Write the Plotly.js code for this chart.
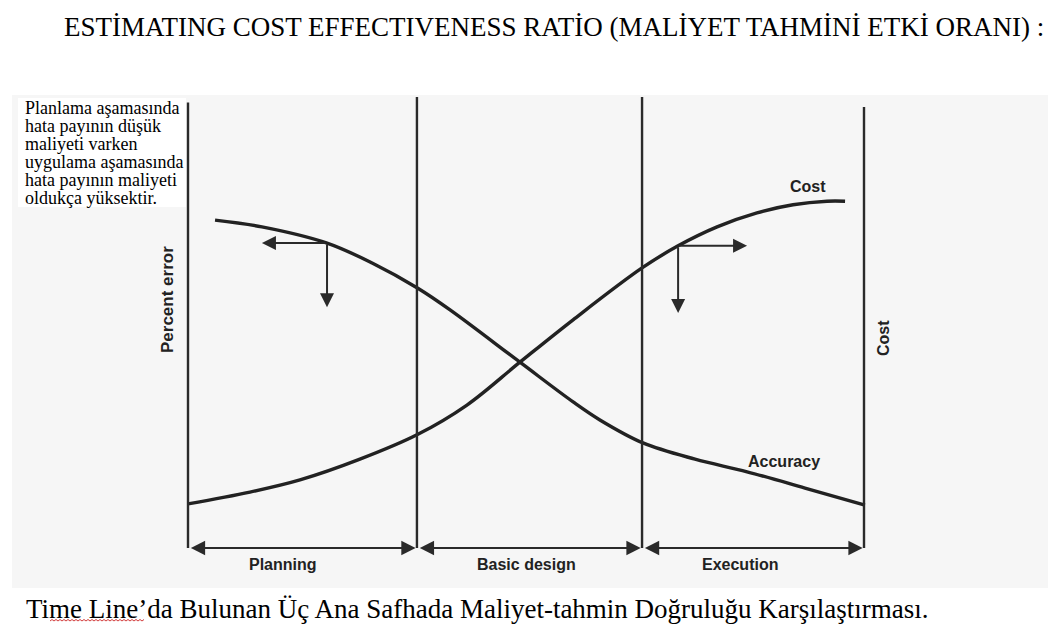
<!DOCTYPE html>
<html>
<head>
<meta charset="utf-8">
<script src="https://cdn.plot.ly/plotly-3.0.1.min.js"></script>
<style>html,body{margin:0;padding:0;background:#fff;}#chart{width:1051px;height:634px;}</style>
</head>
<body>
<div id="chart"></div>
<script>
// ---- data ----
const phaseNames = ["Planning", "Basic design", "Execution"];
const phaseBounds = [0, 1.016, 2.015, 3.0];
const boundTops = [98.8, 100, 100, 97.8];
const phaseLabelX = [0.42, 1.50, 2.45];

const accuracyX = [0.12, 0.328, 0.617, 0.817, 1.02, 1.163, 1.473, 1.709, 1.828, 2.019, 2.25, 2.481, 2.738, 3.004];
const accuracyY = [72.7, 71.2, 67.6, 63.2, 57.6, 52.8, 41.2, 32.4, 28.4, 23.3, 19.7, 16.9, 13.3, 9.5];

const costX = [0, 0.275, 0.497, 0.763, 1.016, 1.238, 1.473, 1.709, 2.015, 2.175, 2.348, 2.525, 2.685, 2.836, 2.916];
const costY = [9.8, 12.4, 15.1, 19.7, 25.1, 31.7, 41.2, 50.6, 62.1, 67.0, 71.2, 74.3, 76.1, 76.9, 76.9];

// arrows: [tailX, tailY, headX, headY]
const errorArrows = [
  [0.617, 67.6, 0.328, 67.6],
  [0.617, 67.6, 0.617, 53.4],
  [2.175, 67.0, 2.481, 67.0],
  [2.175, 67.0, 2.175, 52.1]
];

const curveLabels = ["Cost", "Accuracy"];
const axisLabels = ["Percent error", "Cost"];
const titleText = "ESTİMATING COST EFFECTIVENESS RATİO (MALİYET TAHMİNİ ETKİ ORANI) :";
const captionText = "Time Line’da Bulunan Üç Ana Safhada Maliyet-tahmin Doğruluğu Karşılaştırması.";
const noteLines = ["Planlama aşamasında", "hata payının düşük", "maliyeti varken", "uygulama aşamasında", "hata payının maliyeti", "oldukça yüksektir."];

// ---- layout geometry (pixels) ----
const W = 1051, H = 634;
const X0PX = 188, X3PX = 864, Y0PX = 548, Y100PX = 97;   // where data 0..3 / 0..100 sit
const L = 176, R = 876, T = 88, B = 558;                  // plot area, a bit larger so edge lines are not clipped
const ux = 3 / (X3PX - X0PX), uy = 100 / (Y0PX - Y100PX);
const xRange = [-(X0PX - L) * ux, 3 + (R - X3PX) * ux];
const yRange = [-(B - Y0PX) * uy, 100 + (Y100PX - T) * uy];
const px = v => (v - L) / (R - L);
const py = v => (B - v) / (B - T);

const ink = "#222222";
const sansBold = "Liberation Sans, Arial, sans-serif";
const serif = "Liberation Serif, Times New Roman, serif";

const traces = [
  {x: accuracyX, y: accuracyY, mode: "lines", line: {shape: "spline", width: 3.4, color: ink, smoothing: 1}, hoverinfo: "skip", name: "Accuracy"},
  {x: costX, y: costY, mode: "lines", line: {shape: "spline", width: 3.4, color: ink, smoothing: 1}, hoverinfo: "skip", name: "Cost"}
];

const shapes = [];
// scanned-page background
shapes.push({type: "rect", xref: "paper", yref: "paper", x0: px(12), x1: px(1048), y0: py(588), y1: py(95), fillcolor: "#f6f6f6", line: {width: 0}, layer: "below"});
shapes.push({type: "rect", xref: "paper", yref: "paper", x0: px(18), x1: px(186), y0: py(207), y1: py(98), fillcolor: "#ffffff", line: {width: 0}, layer: "below"});
// phase boundaries
phaseBounds.forEach((b, i) => {
  shapes.push({type: "line", xref: "x", yref: "y", x0: b, x1: b, y0: 0, y1: boundTops[i], line: {color: "#2a2a2a", width: 2.4}});
});
// red wavy spell-check underline under "Line"
let wave = "M" + px(50) + "," + py(621);
for (let xx = 50, k = 0; xx < 143; xx += 2, k++) {
  wave += " L" + px(xx + 2) + "," + py(k % 2 ? 621 : 619.5);
}
shapes.push({type: "path", xref: "paper", yref: "paper", path: wave, line: {color: "#d23c3c", width: 1}});

const annotations = [];
// phase double arrows along the bottom
for (let i = 0; i < phaseNames.length; i++) {
  annotations.push({x: phaseBounds[i + 1] - 0.006, y: 0, ax: phaseBounds[i] + 0.006, ay: 0, xref: "x", yref: "y", axref: "x", ayref: "y",
    text: "", showarrow: true, arrowhead: 2, arrowsize: 1.3, arrowwidth: 2.2, arrowcolor: "#2a2a2a", arrowside: "end+start", standoff: 0, startstandoff: 0});
  annotations.push({x: phaseLabelX[i], y: 0, xref: "x", yref: "y", yshift: -16, xanchor: "center", yanchor: "middle",
    text: "<b>" + phaseNames[i] + "</b>", showarrow: false, font: {family: sansBold, size: 16, color: ink}});
}
// error arrows
errorArrows.forEach(a => {
  annotations.push({x: a[2], y: a[3], ax: a[0], ay: a[1], xref: "x", yref: "y", axref: "x", ayref: "y",
    text: "", showarrow: true, arrowhead: 2, arrowsize: 1.4, arrowwidth: 2, arrowcolor: "#2a2a2a", standoff: 0, startstandoff: 0});
});
// curve labels
annotations.push({xref: "paper", yref: "paper", x: px(808), y: py(186), xanchor: "center", yanchor: "middle", text: "<b>" + curveLabels[0] + "</b>", showarrow: false, font: {family: sansBold, size: 16, color: ink}});
annotations.push({xref: "paper", yref: "paper", x: px(784), y: py(461), xanchor: "center", yanchor: "middle", text: "<b>" + curveLabels[1] + "</b>", showarrow: false, font: {family: sansBold, size: 16, color: ink}});
// axis labels
annotations.push({xref: "paper", yref: "paper", x: px(167), y: py(300), xanchor: "center", yanchor: "middle", text: "<b>" + axisLabels[0] + "</b>", textangle: -90, showarrow: false, font: {family: sansBold, size: 17, color: ink}});
annotations.push({xref: "paper", yref: "paper", x: px(883), y: py(338), xanchor: "center", yanchor: "middle", text: "<b>" + axisLabels[1] + "</b>", textangle: -90, showarrow: false, font: {family: sansBold, size: 16, color: ink}});
// note lines
noteLines.forEach((t, i) => {
  annotations.push({xref: "paper", yref: "paper", x: px(23), y: py(108 + i * 18), xanchor: "left", yanchor: "middle", text: t, showarrow: false, font: {family: serif, size: 18, color: "#000"}});
});
// title and caption
annotations.push({xref: "paper", yref: "paper", x: px(62), y: py(27), xanchor: "left", yanchor: "middle", text: titleText, showarrow: false, font: {family: serif, size: 27, color: "#000"}});
annotations.push({xref: "paper", yref: "paper", x: px(24), y: py(609), xanchor: "left", yanchor: "middle", text: captionText, showarrow: false, font: {family: serif, size: 27, color: "#000"}});

const layout = {
  width: W, height: H,
  margin: {l: L, r: W - R, t: T, b: H - B, pad: 0},
  paper_bgcolor: "#ffffff", plot_bgcolor: "rgba(0,0,0,0)",
  showlegend: false,
  xaxis: {range: xRange, visible: false, fixedrange: true},
  yaxis: {range: yRange, visible: false, fixedrange: true},
  shapes: shapes,
  annotations: annotations
};

Plotly.newPlot("chart", traces, layout, {displayModeBar: false, staticPlot: true});
</script>
</body>
</html>
